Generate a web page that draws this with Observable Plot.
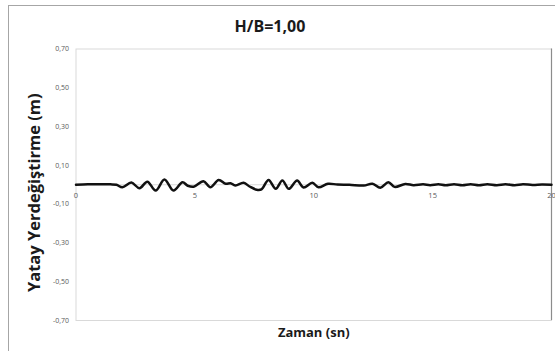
<!DOCTYPE html>
<html>
<head>
<meta charset="utf-8">
<script src="https://cdn.jsdelivr.net/npm/d3@7"></script>
<script src="https://cdn.jsdelivr.net/npm/@observablehq/plot@0.6"></script>
<style>
  html, body { margin: 0; padding: 0; background: #fff; }
  #wrap { position: relative; width: 555px; height: 351px; overflow: hidden; font-family: "Open Sans", sans-serif; }
  #frameTop { position: absolute; left: 8px; top: 5px; width: 547px; height: 1px; background: #a6a6a6; }
  #frameLeft { position: absolute; left: 8px; top: 5px; width: 1px; height: 346px; background: #a6a6a6; }
  #title { position: absolute; left: 170px; width: 200px; top: 15px; text-align: center; font-weight: bold; font-size: 16px; color: #1a1a1a; line-height: 22px; }
  #chart { position: absolute; left: 0; top: 40px; }
</style>
</head>
<body>
<div id="wrap">
  <div id="frameTop"></div>
  <div id="frameLeft"></div>
  <div id="title">H/B=1,00</div>
  <div id="chart"></div>
</div>
<script>
const titleText = "H/B=1,00";
const xLabel = "Zaman (sn)";
const yLabel = "Yatay Yerdeğiştirme (m)";
const xTicks = [0, 5, 10, 15, 20];
const yTicks = [0.7, 0.5, 0.3, 0.1, -0.1, -0.3, -0.5, -0.7];
const time = [0, 0.5, 1.0, 1.45, 1.7, 1.95, 2.33, 2.67, 3.0, 3.35, 3.72, 4.1, 4.48, 4.7, 4.95,
  5.36, 5.65, 6.0, 6.3, 6.5, 6.7, 7.05, 7.3, 7.6, 7.8, 8.1, 8.4, 8.68, 8.95, 9.3, 9.57, 9.94,
  10.2, 10.6, 11.0, 11.5, 12.1, 12.47, 12.8, 13.14, 13.4, 13.85, 14.2, 14.6, 14.9, 15.24, 15.55,
  15.9, 16.25, 16.6, 16.95, 17.3, 17.7, 18.06, 18.45, 18.8, 19.2, 19.6, 20];
const disp = [0, 0.002, 0.002, 0.002, 0.0, -0.013, 0.011, -0.018, 0.016, -0.030, 0.027, -0.030, 0.013, -0.005, -0.010,
  0.018, -0.013, 0.025, 0.005, 0.008, -0.004, 0.010, -0.009, -0.026, -0.024, 0.025, -0.021, 0.022, -0.021, 0.022, -0.014, 0.010,
  -0.013, 0.005, 0.001, 0.0, -0.004, 0.005, -0.016, 0.013, -0.011, 0.004, -0.002, 0.002, -0.002, 0.003, -0.002,
  0.003, -0.002, 0.003, -0.002, 0.003, -0.002, 0.003, -0.002, 0.003, -0.001, 0.001, 0];

const data = time.map((t, i) => ({t, v: disp[i]}));
const fmt = d => d.toFixed(2).replace(".", ",");

const plot = Plot.plot({
  width: 555,
  height: 311,
  marginLeft: 75.5,
  marginRight: 4,
  marginTop: 8.5,
  marginBottom: 31,
  style: {fontFamily: "Open Sans, sans-serif", background: "transparent"},
  x: {domain: [0, 20], axis: null},
  y: {domain: [-0.7, 0.7], axis: null},
  marks: [
    Plot.frame({stroke: "#d9d9d9"}),
    Plot.ruleX([20], {stroke: "#8c8c8c", strokeWidth: 1.2}),
    Plot.ruleY([0], {stroke: "#d9d9d9"}),
    Plot.axisY(yTicks, {tickSize: 0, tickPadding: 7, tickFormat: fmt, fontSize: 7, fill: "#595959", label: null}),
    Plot.text(xTicks, {x: d => d, y: 0, dy: 11, text: d => String(d), fontSize: 7.5, fill: "#595959"}),
    Plot.line(data, {x: "t", y: "v", stroke: "#111", strokeWidth: 2.5, curve: "catmull-rom"}),
    Plot.text([xLabel], {frameAnchor: "bottom", dy: 16, fontSize: 13, fontWeight: "bold", fill: "#1a1a1a"}),
    Plot.text([yLabel], {frameAnchor: "left", textAnchor: "middle", dx: -41, dy: 8, rotate: -90, fontSize: 16.5, fontWeight: "bold", fill: "#1a1a1a"})
  ]
});
document.getElementById("chart").appendChild(plot);
document.getElementById("title").textContent = titleText;
</script>
</body>
</html>
